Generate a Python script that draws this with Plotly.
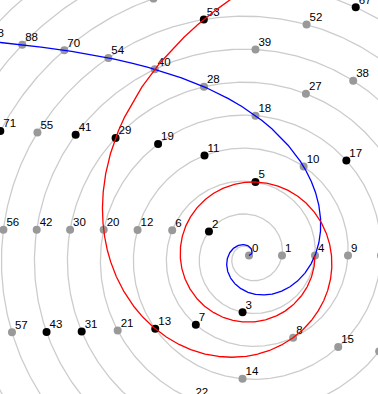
import numpy as np
import plotly.graph_objects as go

# Sacks number spiral: n placed at r = sqrt(n), theta = 2*pi*sqrt(n)
numbers = list(range(0, 131))
# quadratic curves n(t) = a*t^2 + b*t + c drawn through the spiral
blue_coeffs = [1, 3, 0]   # n = t^2 + 3t  (0, 4, 10, 18, 28, 40, 54, 70, 88 ...)
red_coeffs = [1, 0, 4]    # n = t^2 + 4   (4, 5, 8, 13, 20, 29, 40, 53 ...)
blue_t_range = [0, 11]
red_t_range = [0, 9]

def is_prime(k):
    if k < 2:
        return False
    for d in range(2, int(k ** 0.5) + 1):
        if k % d == 0:
            return False
    return True

def polar_xy(n):
    n = np.asarray(n, dtype=float)
    r = np.sqrt(n)
    th = 2 * np.pi * r
    return r * np.cos(th), r * np.sin(th)

def curve_xy(coeffs, t_range):
    a, b, c = coeffs
    t = np.linspace(t_range[0], t_range[1], 4000)
    n = a * t * t + b * t + c
    r = np.sqrt(n)
    th = 2 * np.pi * (r - t)
    return r * np.cos(th), r * np.sin(th)

scale = 33.0
cx, cy = 249.0, 255.5
W, H = 378, 394

fig = go.Figure()

# background Archimedean spiral
rs = np.linspace(0, 12, 6000)
fig.add_trace(go.Scatter(x=rs * np.cos(2 * np.pi * rs), y=rs * np.sin(2 * np.pi * rs),
                         mode="lines", line=dict(color="#cccccc", width=1.3),
                         hoverinfo="skip", showlegend=False))

nx, ny = polar_xy(numbers)
colors = ["#000000" if is_prime(k) else "#999999" for k in numbers]
fig.add_trace(go.Scatter(x=nx, y=ny, mode="markers",
                         marker=dict(color=colors, size=8, line=dict(width=0)),
                         cliponaxis=True, showlegend=False))
# number labels, offset a few pixels up-right of each point
fig.add_trace(go.Scatter(x=nx + 3.0 / scale, y=ny + 6.5 / scale, mode="text",
                         text=[str(k) for k in numbers], textposition="middle right",
                         textfont=dict(family="Liberation Sans, Arial", size=11.5, color="#000000"),
                         cliponaxis=True, hoverinfo="skip", showlegend=False))

bx, by = curve_xy(blue_coeffs, blue_t_range)
fig.add_trace(go.Scatter(x=bx, y=by, mode="lines", line=dict(color="#0000ff", width=1.3),
                         showlegend=False))
rx, ry = curve_xy(red_coeffs, red_t_range)
fig.add_trace(go.Scatter(x=rx, y=ry, mode="lines", line=dict(color="#ff0000", width=1.3),
                         showlegend=False))

fig.update_layout(
    width=W, height=H, margin=dict(l=0, r=0, t=0, b=0),
    paper_bgcolor="white", plot_bgcolor="white",
    xaxis=dict(range=[-cx / scale, (W - cx) / scale], visible=False, showgrid=False, zeroline=False),
    yaxis=dict(range=[-(H - cy) / scale, cy / scale], visible=False, showgrid=False, zeroline=False),
)
fig.write_html("out.html")
